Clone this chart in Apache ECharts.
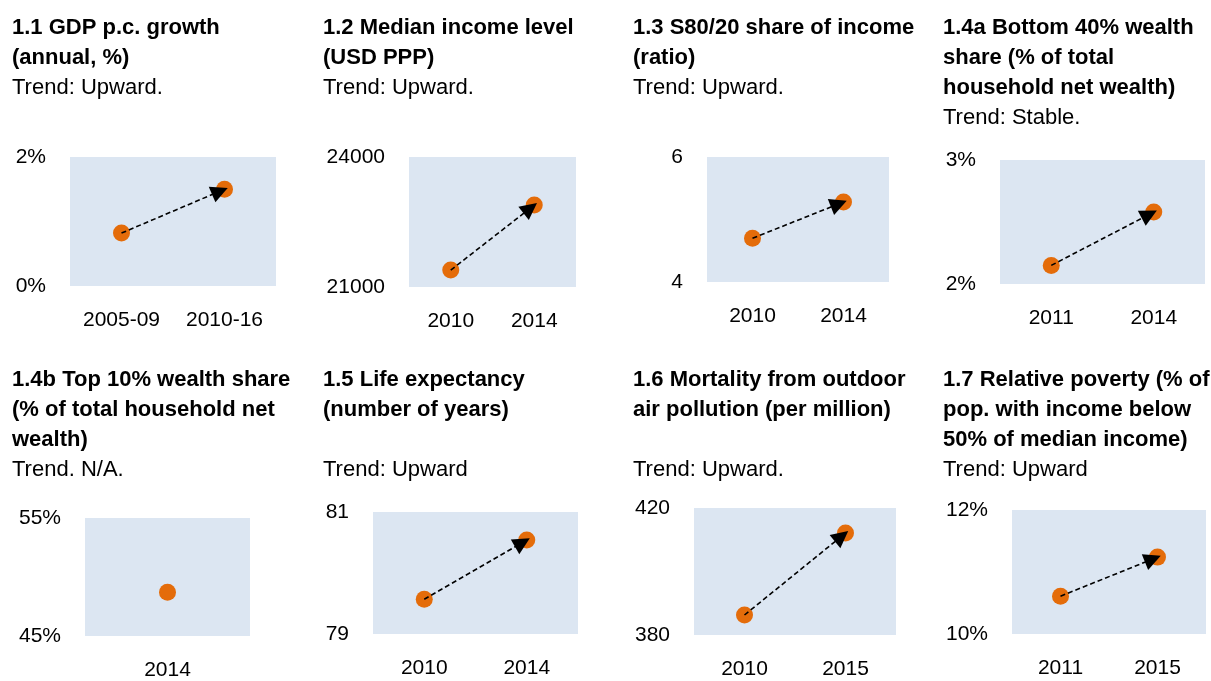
<!DOCTYPE html>
<html>
<head>
<meta charset="UTF-8">
<title>Indicators</title>
<script src="https://cdn.jsdelivr.net/npm/echarts@6/dist/echarts.min.js"></script>
<style>
  html, body { margin: 0; padding: 0; background: #fff; }
  #main { width: 1211px; height: 681px; }
</style>
</head>
<body>
<div id="main"></div>
<script type="text/javascript">
// panel texts
var titles = [
  ['1.1 GDP p.c. growth', '(annual, %)'],
  ['1.2 Median income level', '(USD PPP)'],
  ['1.3 S80/20 share of income', '(ratio)'],
  ['1.4a Bottom 40% wealth', 'share (% of total', 'household net wealth)'],
  ['1.4b Top 10% wealth share', '(% of total household net', 'wealth)'],
  ['1.5 Life expectancy', '(number of years)', ' '],
  ['1.6 Mortality from outdoor', 'air pollution (per million)', ' '],
  ['1.7 Relative poverty (% of', 'pop. with income below', '50% of median income)']
];
var trends = ['Trend: Upward.', 'Trend: Upward.', 'Trend: Upward.', 'Trend: Stable.',
              'Trend. N/A.', 'Trend: Upward', 'Trend: Upward.', 'Trend: Upward'];

// categories and values
var periods = [
  ['2005-09', '2010-16'],
  ['2010', '2014'],
  ['2010', '2014'],
  ['2011', '2014'],
  ['2014'],
  ['2010', '2014'],
  ['2010', '2015'],
  ['2011', '2015']
];
var values = [
  [0.82, 1.50],
  [21390, 22890],
  [4.70, 5.28],
  [2.15, 2.58],
  [48.7],
  [79.57, 80.54],
  [386.3, 412.1],
  [10.61, 11.24]
];
// y axis range (tick labels are the two ends)
var yMin = [0, 21000, 4, 2, 45, 79, 380, 10];
var yMax = [2, 24000, 6, 3, 55, 81, 420, 12];
var yPct = [true, false, false, true, true, false, false, true];

// layout of each small panel
var grids = [
  [70, 157, 206, 129], [409, 157, 167, 130], [707, 157, 182, 125], [1000, 160, 205, 124],
  [85, 518, 165, 123], [373, 512, 205, 122], [694, 508, 202, 127], [1012, 510, 194, 124]
];
var titleLeft = [12, 323, 633, 943, 12, 323, 633, 943];
var titleTop = [13, 13, 13, 13, 365, 365, 365, 365];

var font = 'Liberation Sans, Arial, sans-serif';
var orange = '#e46c0a';

var option = { animation: false, title: [], grid: [], xAxis: [], yAxis: [], series: [] };

for (var i = 0; i < 8; i++) {
  var txt = titles[i].map(function (l) { return '{b|' + l + '}'; }).join('\n') +
            '\n{n|' + trends[i] + '}';
  option.title.push({
    text: txt,
    left: titleLeft[i],
    top: titleTop[i],
    padding: 0,
    textStyle: {
      fontFamily: font, lineHeight: 30, color: '#000',
      rich: {
        b: { fontFamily: font, fontSize: 22, fontWeight: 'bold', color: '#000', lineHeight: 30 },
        n: { fontFamily: font, fontSize: 22, fontWeight: 'normal', color: '#000', lineHeight: 30 }
      }
    }
  });
  var g = grids[i];
  option.grid.push({
    left: g[0], top: g[1], width: g[2], height: g[3],
    show: true, backgroundColor: '#dce6f2', borderWidth: 0
  });
  option.xAxis.push({
    type: 'category', gridIndex: i, data: periods[i], boundaryGap: true,
    axisLine: { show: false }, axisTick: { show: false }, splitLine: { show: false },
    axisLabel: { margin: 24, fontFamily: font, fontSize: 21, color: '#000' }
  });
  (function (pct) {
    option.yAxis.push({
      type: 'value', gridIndex: i, min: yMin[i], max: yMax[i], interval: yMax[i] - yMin[i],
      axisLine: { show: false }, axisTick: { show: false }, splitLine: { show: false },
      axisLabel: {
        margin: 24, fontFamily: font, fontSize: 21, color: '#000',
        formatter: function (v) { return pct ? v + '%' : String(v); }
      }
    });
  })(yPct[i]);
  option.series.push({
    type: 'scatter', xAxisIndex: i, yAxisIndex: i, data: values[i],
    symbolSize: 17, itemStyle: { color: orange, opacity: 1 }, z: 2, silent: true
  });
  if (values[i].length > 1) {
    option.series.push({
      type: 'line', xAxisIndex: i, yAxisIndex: i, data: values[i],
      showSymbol: false, symbol: 'none', lineStyle: { opacity: 0 }, z: 4, silent: true,
      markLine: {
        silent: true, animation: false,
        symbol: ['none', 'triangle'], symbolSize: 17,
        symbolOffset: [[0, 0], [0, 5]],
        label: { show: false },
        lineStyle: { color: '#000', type: [5, 3], width: 1.6, opacity: 1 },
        emphasis: { disabled: true },
        data: [[
          { coord: [periods[i][0], values[i][0]] },
          { coord: [periods[i][1], values[i][1]] }
        ]]
      }
    });
  }
}

var myChart = echarts.init(document.getElementById('main'));
myChart.setOption(option);
</script>
</body>
</html>
